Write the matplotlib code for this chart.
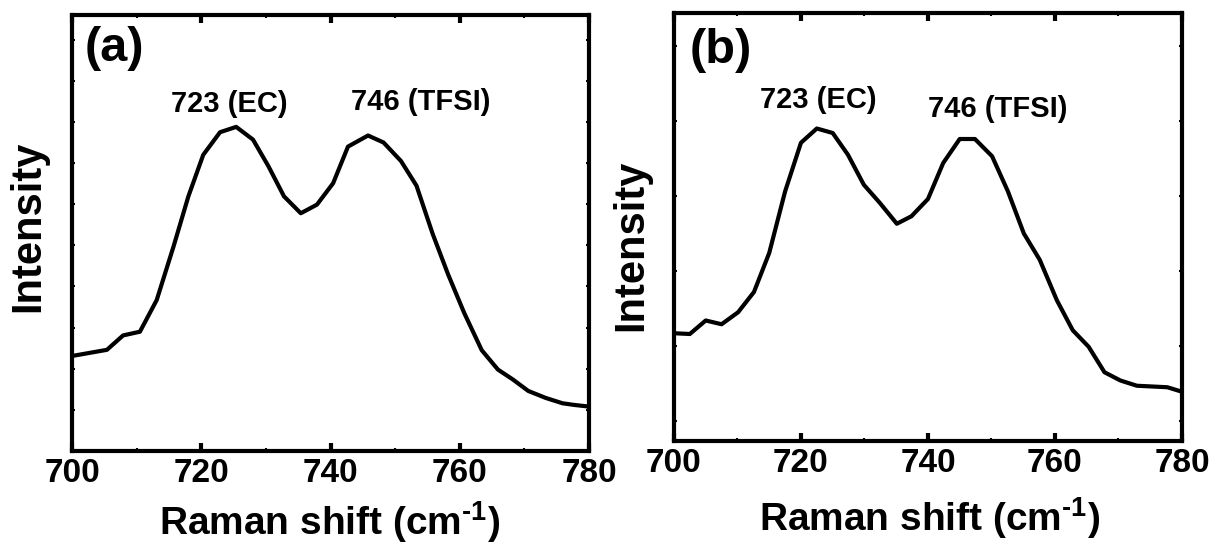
import numpy as np
import matplotlib
matplotlib.use("Agg")
import matplotlib.pyplot as plt

plt.rcParams['font.family'] = ['Liberation Sans', 'DejaVu Sans']
plt.rcParams['font.weight'] = 'bold'
plt.rcParams['mathtext.fontset'] = 'custom'
plt.rcParams['mathtext.rm'] = 'Liberation Sans:bold'
plt.rcParams['mathtext.bf'] = 'Liberation Sans:bold'

# ---- data ----
shift_a = [700.0, 705.4, 707.9, 710.5, 713.1, 715.7, 718.0, 720.3, 722.9, 725.4,
           728.0, 730.4, 732.8, 735.4, 737.9, 740.4, 742.7, 745.8, 748.2, 750.9,
           753.3, 755.8, 758.2, 760.7, 763.4, 765.9, 768.2, 770.6, 773.3, 775.9,
           777.7, 780.0]
inten_a = [2.31, 2.46, 2.81, 2.90, 3.67, 4.97, 6.19, 7.20, 7.75, 7.88,
           7.57, 6.92, 6.19, 5.78, 5.99, 6.51, 7.40, 7.67, 7.50, 7.05,
           6.45, 5.28, 4.29, 3.35, 2.45, 1.98, 1.74, 1.46, 1.29, 1.16,
           1.12, 1.08]

shift_b = [700.0, 702.5, 705.0, 707.5, 710.1, 712.6, 715.0, 717.5, 720.0, 722.5,
           725.0, 727.4, 729.9, 732.4, 735.1, 737.4, 740.0, 742.4, 745.0, 747.4,
           750.1, 752.6, 755.1, 757.6, 760.3, 762.8, 765.3, 767.8, 770.3, 772.9,
           777.7, 780.0]
inten_b = [2.17, 2.16, 2.34, 2.29, 2.45, 2.72, 3.24, 4.06, 4.71, 4.90,
           4.84, 4.55, 4.15, 3.91, 3.63, 3.73, 3.96, 4.44, 4.76, 4.76,
           4.53, 4.06, 3.50, 3.15, 2.61, 2.21, 1.99, 1.65, 1.54, 1.47,
           1.45, 1.39]

xticks = [700, 720, 740, 760, 780]
peak_labels = ['723 (EC)', '746 (TFSI)']

fig = plt.figure(figsize=(12.15, 5.49), dpi=100)
ax_a = fig.add_axes([0.0593, 0.1785, 0.4255, 0.7942])
ax_b = fig.add_axes([0.5547, 0.1967, 0.4181, 0.7796])


def style_axis(ax, ylim, yticks):
    ax.set_xlim(700, 780)
    ax.set_ylim(*ylim)
    ax.set_xticks(xticks)
    ax.set_xticks([710, 730, 750, 770], minor=True)
    ax.set_yticks(yticks)
    ax.set_yticklabels([])
    for s in ax.spines.values():
        s.set_linewidth(3)
    ax.tick_params(axis='x', which='major', direction='in', length=6, width=3,
                   labelsize=24, pad=5, top=True)
    ax.tick_params(axis='x', which='minor', direction='in', length=2, width=1.5,
                   top=True)
    ax.tick_params(axis='y', direction='in', length=2, width=1.5, right=True)
    for lab in ax.get_xticklabels():
        lab.set_fontweight('bold')


# panel (a)
ax_a.plot(shift_a, inten_a, color='black', lw=3)
style_axis(ax_a, (0, 10.6), range(1, 11))
ax_a.text(0.025, 0.975, '(a)', transform=ax_a.transAxes, ha='left', va='top',
          fontsize=35, fontweight='bold')
ax_a.text(724.4, 8.25, peak_labels[0], ha='center', va='baseline', fontsize=21, fontweight='bold')
ax_a.text(754.0, 8.3, peak_labels[1], ha='center', va='baseline', fontsize=21, fontweight='bold')
ax_a.set_ylabel('Intensity', fontsize=30, fontweight='bold')
ax_a.yaxis.set_label_coords(-0.046, 0.516)

# panel (b)
ax_b.plot(shift_b, inten_b, color='black', lw=3)
style_axis(ax_b, (0.733, 6.44), range(1, 7))
ax_b.text(0.031, 0.965, '(b)', transform=ax_b.transAxes, ha='left', va='top',
          fontsize=35, fontweight='bold')
ax_b.text(722.8, 5.17, peak_labels[0], ha='center', va='baseline', fontsize=21, fontweight='bold')
ax_b.text(751.0, 5.05, peak_labels[1], ha='center', va='baseline', fontsize=21, fontweight='bold')
ax_b.set_ylabel('Intensity', fontsize=30, fontweight='bold')
ax_b.yaxis.set_label_coords(-0.045, 0.458)

xlabel = r'Raman shift (cm$^{\text{-1}}$)'
fig.text(330 / 1215, 1 - 535 / 549, xlabel, ha='center', va='baseline',
         fontsize=28, fontweight='bold')
fig.text(930 / 1215, 1 - 531 / 549, xlabel, ha='center', va='baseline',
         fontsize=28, fontweight='bold')

fig.savefig('out.png', dpi=100)
